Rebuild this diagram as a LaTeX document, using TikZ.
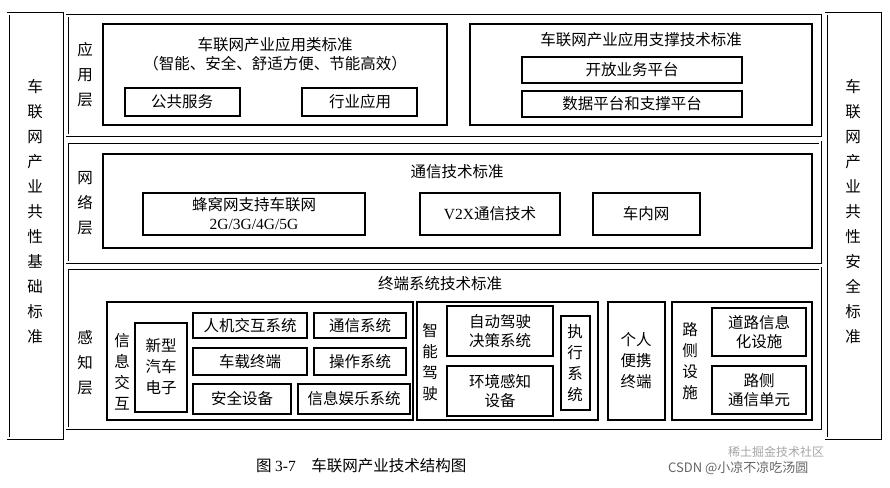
\documentclass[tikz,border=0pt]{standalone}
\usepackage{fontspec}
\setmainfont{Noto Sans CJK SC}
\setsansfont{Noto Sans CJK SC}
\newfontfamily\capfont{Liberation Serif}
\begin{document}
\begin{tikzpicture}[x=1pt,y=-1pt,
  bx/.style={draw,line width=1.1pt,inner sep=0},
  lay/.style={draw,line width=0.7pt,double,double distance=1.6pt,inner sep=0},
  txt/.style={font=\fontsize{15.5}{19}\selectfont,inner sep=0,align=center},
  vt/.style={font=\fontsize{15.5}{21}\selectfont,inner sep=0,align=center},
  vts/.style={font=\fontsize{15.5}{25}\selectfont,inner sep=0,align=center}]
\useasboundingbox (0,0) rectangle (890,487);
\fill[white] (0,0) rectangle (890,487);
% side boxes
\draw[lay] (8,14) rectangle (62,438);
\node[vts] (lt) at (35,212) {车\\联\\网\\产\\业\\共\\性\\基\\础\\标\\准};
\draw[lay] (826,14) rectangle (880,438);
\node[vts] (rt) at (853,212) {车\\联\\网\\产\\业\\共\\性\\安\\全\\标\\准};
% application layer
\draw[lay] (67,16) rectangle (820,135);
\node[vts] (a0) at (85,75) {应\\用\\层};
\draw[bx] (103,24) rectangle (447,125);
\node[txt] (a1) at (275,54) {车联网产业应用类标准\\（智能、安全、舒适方便、节能高效）};
\draw[bx] (125,88) rectangle (240,116); \node[txt] (a2) at (182,102) {公共服务};
\draw[bx] (302,88) rectangle (417,116); \node[txt] (a3) at (360,102) {行业应用};
\draw[bx] (470,24) rectangle (812,125);
\node[txt] (a4) at (641,40) {车联网产业应用支撑技术标准};
\draw[bx] (522,57) rectangle (742,83); \node[txt] (a5) at (632,70) {开放业务平台};
\draw[bx] (522,91) rectangle (742,117); \node[txt] (a6) at (632,104) {数据平台和支撑平台};
% network layer
\draw[lay] (67,142) rectangle (820,262);
\node[vts] (n0) at (85,203) {网\\络\\层};
\draw[bx] (103,154) rectangle (812,248);
\node[txt] (n1) at (457,172) {通信技术标准};
\draw[bx] (143,193) rectangle (365,235);
\node[txt] (n2) at (254,214) {蜂窝网支持车联网\\{\capfont 2G/3G/4G/5G}};
\draw[bx] (420,193) rectangle (560,235); \node[txt] (n3) at (490,214) {{\capfont V2X}通信技术};
\draw[bx] (593,193) rectangle (700,235); \node[txt] (n4) at (646,214) {车内网};
% sensing layer
\draw[lay] (67,268) rectangle (820,428);
\node[vts] (s0) at (85,363) {感\\知\\层};
\node[txt] (s1) at (440,284) {终端系统技术标准};
\draw[bx] (107,302) rectangle (413,420);
\node[vt] (s2) at (122,372) {信\\息\\交\\互};
\draw[bx] (135,323) rectangle (187,412); \node[vt] (s3) at (161,367) {新型\\汽车\\电子};
\draw[bx] (193,313) rectangle (307,338); \node[txt] (s4) at (250,326) {人机交互系统};
\draw[bx] (314,313) rectangle (406,338); \node[txt] (s5) at (360,326) {通信系统};
\draw[bx] (193,348) rectangle (307,375); \node[txt] (s6) at (250,362) {车载终端};
\draw[bx] (314,348) rectangle (406,375); \node[txt] (s7) at (360,362) {操作系统};
\draw[bx] (193,384) rectangle (291,414); \node[txt] (s8) at (242,399) {安全设备};
\draw[bx] (298,384) rectangle (410,414); \node[txt] (s9) at (354,399) {信息娱乐系统};
\draw[bx] (417,302) rectangle (598,420);
\node[vt] (d0) at (430,362) {智\\能\\驾\\驶};
\draw[bx] (447,306) rectangle (553,356); \node[txt] (d1) at (500,331) {自动驾驶\\决策系统};
\draw[bx] (447,366) rectangle (553,416); \node[txt] (d2) at (500,391) {环境感知\\设备};
\draw[bx] (561,316) rectangle (590,410); \node[vt] (d3) at (575,363) {执\\行\\系\\统};
\draw[bx] (608,302) rectangle (665,420); \node[vt] (p0) at (636,361) {个人\\便携\\终端};
\draw[bx] (672,302) rectangle (812,420);
\node[vt] (r0) at (690,361) {路\\侧\\设\\施};
\draw[bx] (712,308) rectangle (806,356); \node[txt] (r1) at (759,332) {道路信息\\化设施};
\draw[bx] (712,366) rectangle (806,414); \node[txt] (r2) at (759,390) {路侧\\通信单元};
% caption
\node[txt,anchor=west] (cap) at (256,466) {图 {\capfont 3-7}\quad 车联网产业技术结构图};
\node[txt,anchor=west,text=gray!70,font=\fontsize{12}{14}\selectfont] (wm2) at (728,452) {稀土掘金技术社区};
\node[txt,anchor=west,text=gray!80!black,font=\fontsize{13}{15}\selectfont] (wm) at (668,468) {CSDN @小凉不凉吃汤圆};
\end{tikzpicture}
\end{document}
